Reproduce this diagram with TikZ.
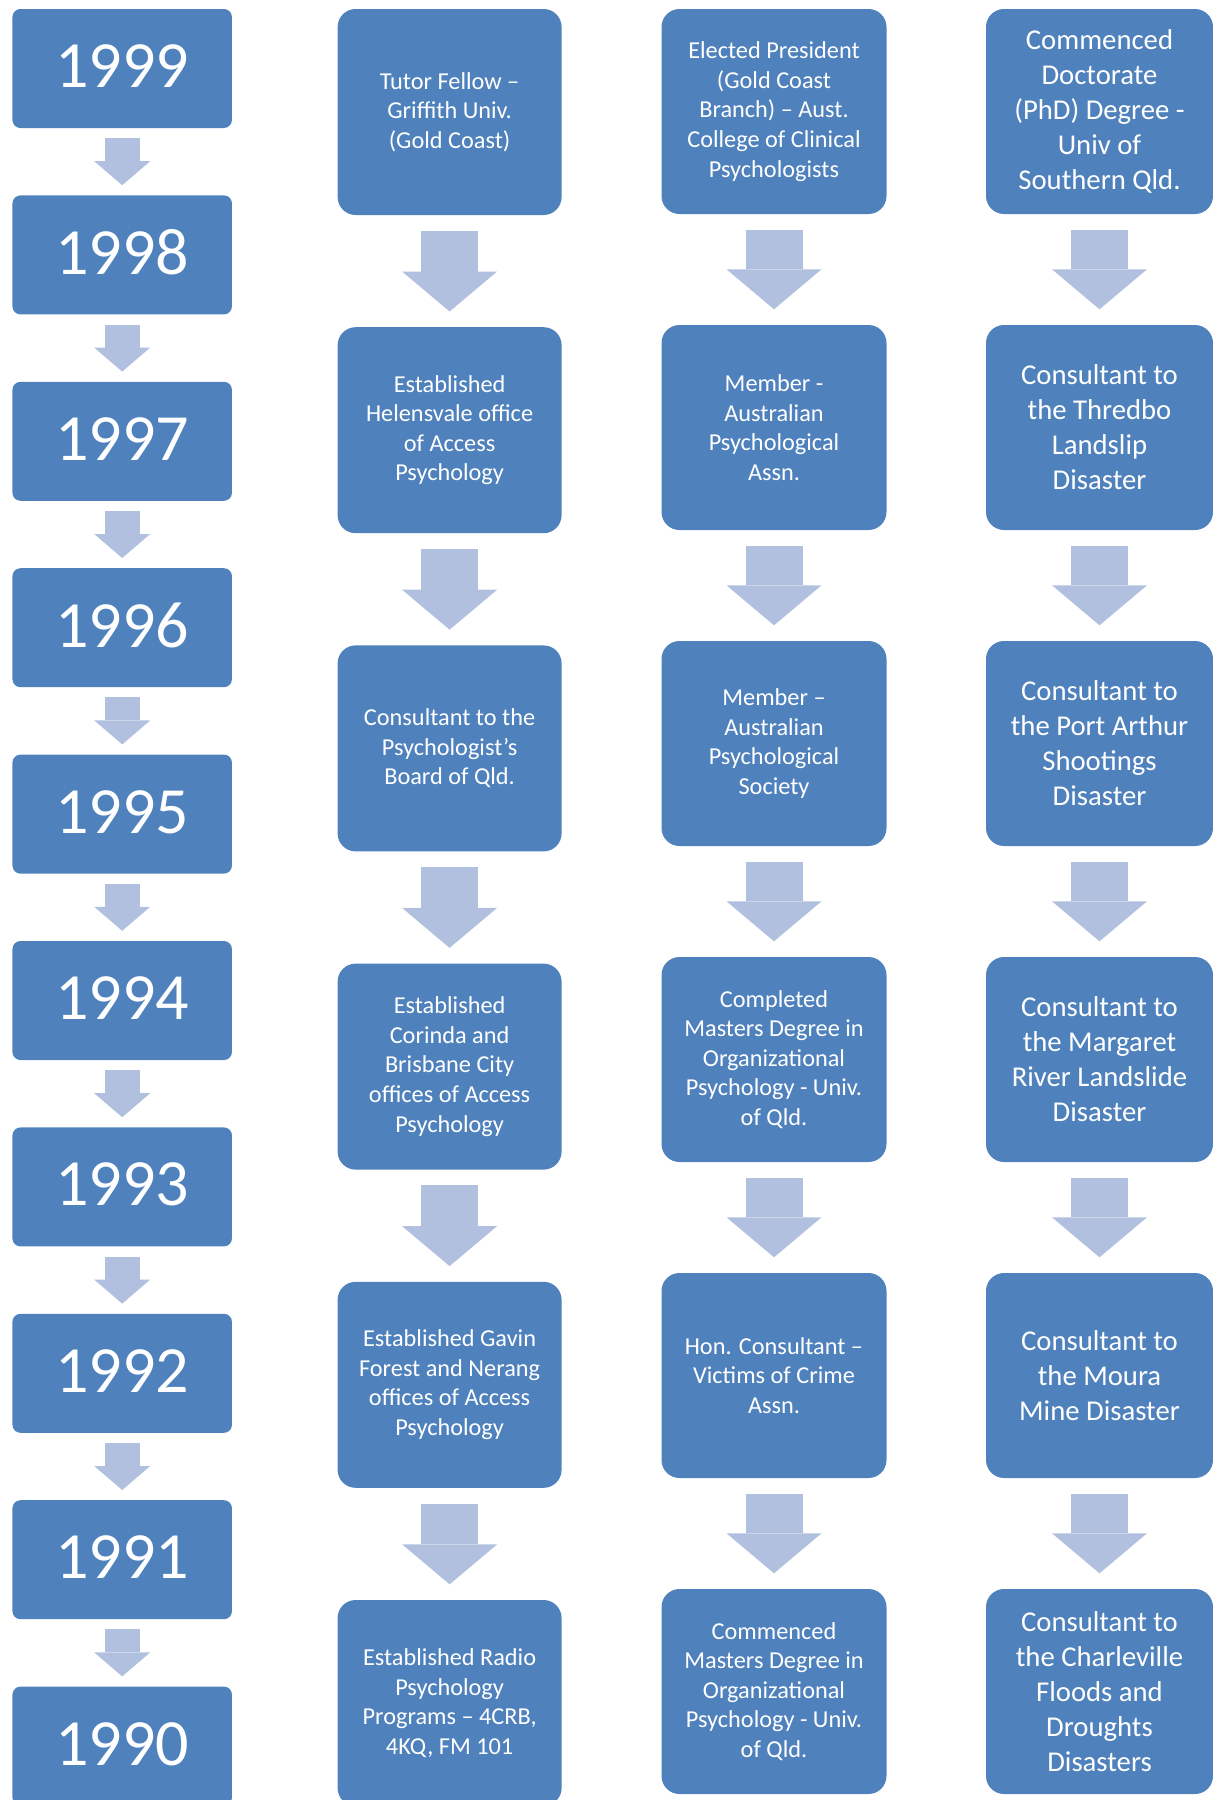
\documentclass[tikz,border=0pt]{standalone}
\usepackage{fontspec}
\setmainfont{Carlito}
\usetikzlibrary{arrows.meta}
\definecolor{boxblau}{HTML}{4F81BD}
\definecolor{pfeilblau}{HTML}{B0C0DE}

\begin{document}
\begin{tikzpicture}[x=1pt, y=-1pt,
    jahr/.style={fill=boxblau, rounded corners=8pt, minimum width=219.5pt, minimum height=119pt,
      inner sep=0pt, text=white, text depth=5pt, font=\fontsize{66}{72}\selectfont},
    station/.style={fill=boxblau, rounded corners=18pt, minimum width=224pt, minimum height=206pt,
      inner sep=0pt, text=white, align=center, font=\fontsize{24.3}{29.6}\selectfont},
    mittelstation/.style={station, minimum width=225pt, minimum height=205pt},
    grossstation/.style={station, minimum width=227pt, minimum height=205pt, font=\fontsize{28.7}{35}\selectfont},
    jahrpfeil/.style={draw=pfeilblau, line width=35pt, -{Triangle[length=24pt, width=56pt, line width=0pt, color=pfeilblau]},
      shorten <=10pt, shorten >=10pt},
    pfeil/.style={draw=pfeilblau, line width=57pt, -{Triangle[length=40pt, width=95pt, line width=0pt, color=pfeilblau]},
      shorten <=15.5pt, shorten >=15.5pt}]

  \clip (0,0) rectangle (1213,1800);

  % Jahre
  \foreach \jahr [count=\i from 0] in {1999,1998,...,1990}
    \node[jahr] (j\i) at (122.2, {68.5+186.4*\i}) {\jahr};
  \foreach \i [count=\n] in {0,...,8}
    \draw[jahrpfeil] (j\i) -- (j\n);

  % Praxis
  \node[station] (p1) at (449.6, 112) {Tutor Fellow --\\ Griffith Univ.\\ (Gold Coast)};
  \node[station] (p2) at (449.6, 430.2) {Established\\ Helensvale office\\ of Access\\ Psychology};
  \node[station] (p3) at (449.6, 748.4) {Consultant to the\\ Psychologist’s\\ Board of Qld.};
  \node[station] (p4) at (449.6, 1066.6) {Established\\ Corinda and\\ Brisbane City\\ offices of Access\\ Psychology};
  \node[station] (p5) at (449.6, 1384.8) {Established Gavin\\ Forest and Nerang\\ offices of Access\\ Psychology};
  \node[station] (p6) at (449.6, 1703) {Established Radio\\ Psychology\\ Programs -- 4CRB,\\ 4KQ, FM 101};

  % Verbaende und Studium
  \node[mittelstation] (v1) at (774, 111.5) {Elected President\\ (Gold Coast\\ Branch) -- Aust.\\ College of Clinical\\ Psychologists};
  \node[mittelstation] (v2) at (774, 427.5) {Member -\\ Australian\\ Psychological\\ Assn.};
  \node[mittelstation] (v3) at (774, 743.5) {Member --\\ Australian\\ Psychological\\ Society};
  \node[mittelstation] (v4) at (774, 1059.5) {Completed\\ Masters Degree in\\ Organizational\\ Psychology - Univ.\\ of Qld.};
  \node[mittelstation] (v5) at (774, 1375.5) {Hon. Consultant --\\ Victims of Crime\\ Assn.};
  \node[mittelstation] (v6) at (774, 1691.5) {Commenced\\ Masters Degree in\\ Organizational\\ Psychology - Univ.\\ of Qld.};

  % Katastrophen
  \node[grossstation] (k1) at (1099.5, 111.5) {Commenced\\ Doctorate\\ (PhD) Degree -\\ Univ of\\ Southern Qld.};
  \node[grossstation] (k2) at (1099.5, 427.5) {Consultant to\\ the Thredbo\\ Landslip\\ Disaster};
  \node[grossstation] (k3) at (1099.5, 743.5) {Consultant to\\ the Port Arthur\\ Shootings\\ Disaster};
  \node[grossstation] (k4) at (1099.5, 1059.5) {Consultant to\\ the Margaret\\ River Landslide\\ Disaster};
  \node[grossstation] (k5) at (1099.5, 1375.5) {Consultant to\\ the Moura\\ Mine Disaster};
  \node[grossstation] (k6) at (1099.5, 1691.5) {Consultant to\\ the Charleville\\ Floods and\\ Droughts\\ Disasters};

  % Pfeile
  \foreach \a/\b in {1/2,2/3,3/4,4/5,5/6} {
    \draw[pfeil] (p\a) -- (p\b);
    \draw[pfeil] (v\a) -- (v\b);
    \draw[pfeil] (k\a) -- (k\b);
  }
\end{tikzpicture}
\end{document}
